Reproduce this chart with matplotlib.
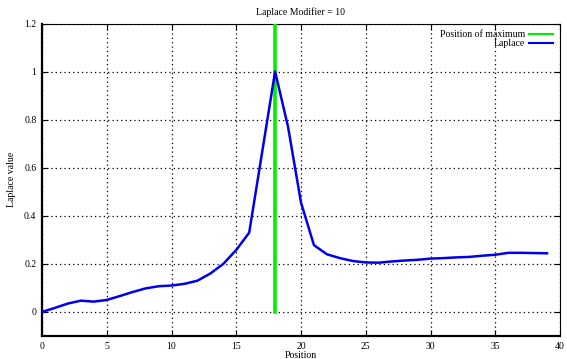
import matplotlib
matplotlib.use("Agg")
import matplotlib.pyplot as plt
import numpy as np

positions = list(range(40))
laplace = [0.0, 0.017, 0.035, 0.047, 0.043, 0.05, 0.066, 0.083, 0.098, 0.107,
           0.110, 0.117, 0.130, 0.160, 0.200, 0.258, 0.330, 0.665, 1.0, 0.77,
           0.455, 0.278, 0.24, 0.224, 0.212, 0.206, 0.205, 0.21, 0.214, 0.217,
           0.222, 0.224, 0.227, 0.229, 0.234, 0.238, 0.246, 0.246, 0.245, 0.244]
max_pos = 18
max_line_y = [0.0, 1.2]
xticks = [0, 5, 10, 15, 20, 25, 30, 35, 40]
yticks = [0, 0.2, 0.4, 0.6, 0.8, 1.0, 1.2]
ytick_labels = ["0", "0.2", "0.4", "0.6", "0.8", "1", "1.2"]

plt.rcParams['font.family'] = ['Liberation Serif', 'DejaVu Serif']
fig = plt.figure(figsize=(5.67, 3.59), dpi=100)
ax = fig.add_axes([42/567, 1-336/359, (560-42)/567, (336-23.5)/359])

ax.plot([max_pos, max_pos], max_line_y, color='#00ee00', lw=2.6, label='Position of maximum', zorder=3)
ax.plot(positions, laplace, color='#0000ee', lw=1.8, label='Laplace', zorder=4)

ax.set_xlim(0, 40)
ax.set_ylim(-0.1, 1.2)
ax.set_xticks(xticks)
ax.set_yticks(yticks)
ax.set_yticklabels(ytick_labels)
ax.tick_params(direction='in', top=True, right=True, labelsize=7, length=4, width=0.8, pad=4)
ax.grid(True, color='black', linestyle=(0, (1, 2.5)), linewidth=0.9)
for s in ax.spines.values():
    s.set_linewidth(0.8)
ax.spines['left'].set_linewidth(1.6)
ax.spines['bottom'].set_linewidth(1.6)

ax.set_title('Laplace Modifier = 10', fontsize=7, pad=6)
ax.set_xlabel('Position', fontsize=7, labelpad=0)
ax.set_ylabel('Laplace value', fontsize=7, labelpad=6)

leg = ax.legend(loc='upper right', fontsize=7, frameon=False, markerfirst=False,
                handlelength=2.5, handletextpad=0.4, labelspacing=0.0,
                borderaxespad=0.3, alignment='right')
for line in leg.get_lines():
    line.set_linewidth(1.5)
for t in leg.get_texts():
    t.set_ha('right')

fig.savefig('out.png', dpi=100)
